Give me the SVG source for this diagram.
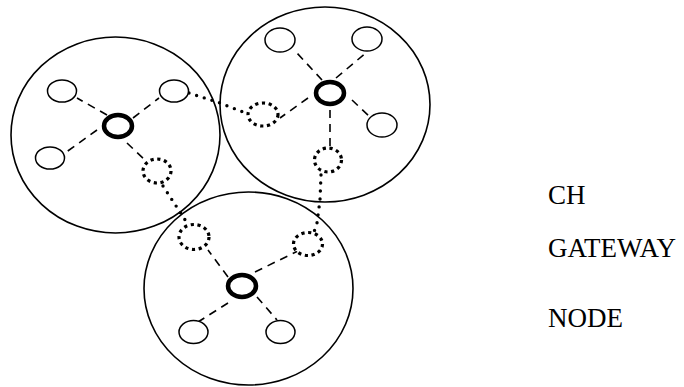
<svg xmlns="http://www.w3.org/2000/svg" width="684" height="387" viewBox="0 0 684 387">
<style>
.cluster{fill:none;stroke:#000;stroke-width:1.6}
.node{fill:#fff;stroke:#000;stroke-width:1.5}
.ch{fill:#fff;stroke:#000;stroke-width:4.5}
.gw{fill:#fff;stroke:#000;stroke-width:3.2;stroke-dasharray:3.2 3.6}
.dash{fill:none;stroke:#000;stroke-width:1.6;stroke-dasharray:8 6}
.dot{fill:none;stroke:#000;stroke-width:3.4;stroke-linecap:round;stroke-dasharray:0 8}
.lbl{font-family:"Liberation Serif","Times New Roman",serif;font-size:27px;fill:#000}
</style>
<rect width="684" height="387" fill="#fff"/>
<g id="clusters">
<ellipse id="cluster1" class="cluster" cx="115.5" cy="135" rx="104.5" ry="98"/>
<ellipse id="cluster2" class="cluster" cx="325" cy="104.5" rx="105" ry="97.5"/>
<ellipse id="cluster3" class="cluster" cx="248.5" cy="288.5" rx="104.5" ry="96.5"/>
</g>
<g id="connectors">
<path class="dash" d="M107 115 L77 98"/>
<path class="dash" d="M133 118 L159 98"/>
<path class="dash" d="M97 130 L65 153"/>
<path class="dash" d="M127 143 L147 162"/>
<path class="dash" d="M322 80 L297 53"/>
<path class="dash" d="M336 78 L367 52"/>
<path class="dash" d="M352 100 L370 117"/>
<path class="dash" d="M308 98 L280 118"/>
<path class="dash" d="M330 110 L330 148"/>
<path class="dash" d="M228 277 L208 250"/>
<path class="dash" d="M255 272 L300 250"/>
<path class="dash" d="M228 303 L190 327"/>
<path class="dash" d="M257 297 L277 320"/>
<path class="dot" d="M189 93 L220 103 L248 114"/>
<path class="dot" d="M163 186 L180 212 L189 226"/>
<path class="dot" d="M321 175 L320 200 L317 223 L314 232"/>
</g>
<g id="node1a"><ellipse class="node" cx="62" cy="91" rx="14.5" ry="11"/></g>
<g id="node1b"><ellipse class="node" cx="174" cy="91" rx="14.5" ry="11"/></g>
<g id="node1c"><ellipse class="node" cx="50" cy="158" rx="14.5" ry="11"/></g>
<g id="ch1"><ellipse class="ch" cx="118" cy="126" rx="14" ry="11"/></g>
<g id="gw1"><ellipse class="gw" cx="157" cy="171" rx="14" ry="12"/></g>
<g id="node2a"><ellipse class="node" cx="280" cy="40" rx="15" ry="12"/></g>
<g id="node2b"><ellipse class="node" cx="367" cy="39" rx="15" ry="12"/></g>
<g id="node2c"><ellipse class="node" cx="382" cy="125" rx="15" ry="12"/></g>
<g id="ch2"><ellipse class="ch" cx="330" cy="93" rx="14" ry="11"/></g>
<g id="gw2a"><ellipse class="gw" cx="263" cy="114.5" rx="15" ry="11.5"/></g>
<g id="gw2b"><ellipse class="gw" cx="328" cy="160" rx="13.5" ry="12"/></g>
<g id="gw3a"><ellipse class="gw" cx="194" cy="237" rx="15" ry="12.5"/></g>
<g id="gw3b"><ellipse class="gw" cx="308" cy="244" rx="14.5" ry="11.5"/></g>
<g id="ch3"><ellipse class="ch" cx="242" cy="286" rx="14" ry="11"/></g>
<g id="node3a"><ellipse class="node" cx="193.5" cy="332" rx="14.5" ry="11.5"/></g>
<g id="node3b"><ellipse class="node" cx="280.5" cy="332" rx="14.5" ry="11.5"/></g>
<g id="legend">
<text class="lbl" x="548" y="204">CH</text>
<text class="lbl" x="548" y="257">GATEWAY</text>
<text class="lbl" x="548" y="327">NODE</text>
</g>
</svg>
